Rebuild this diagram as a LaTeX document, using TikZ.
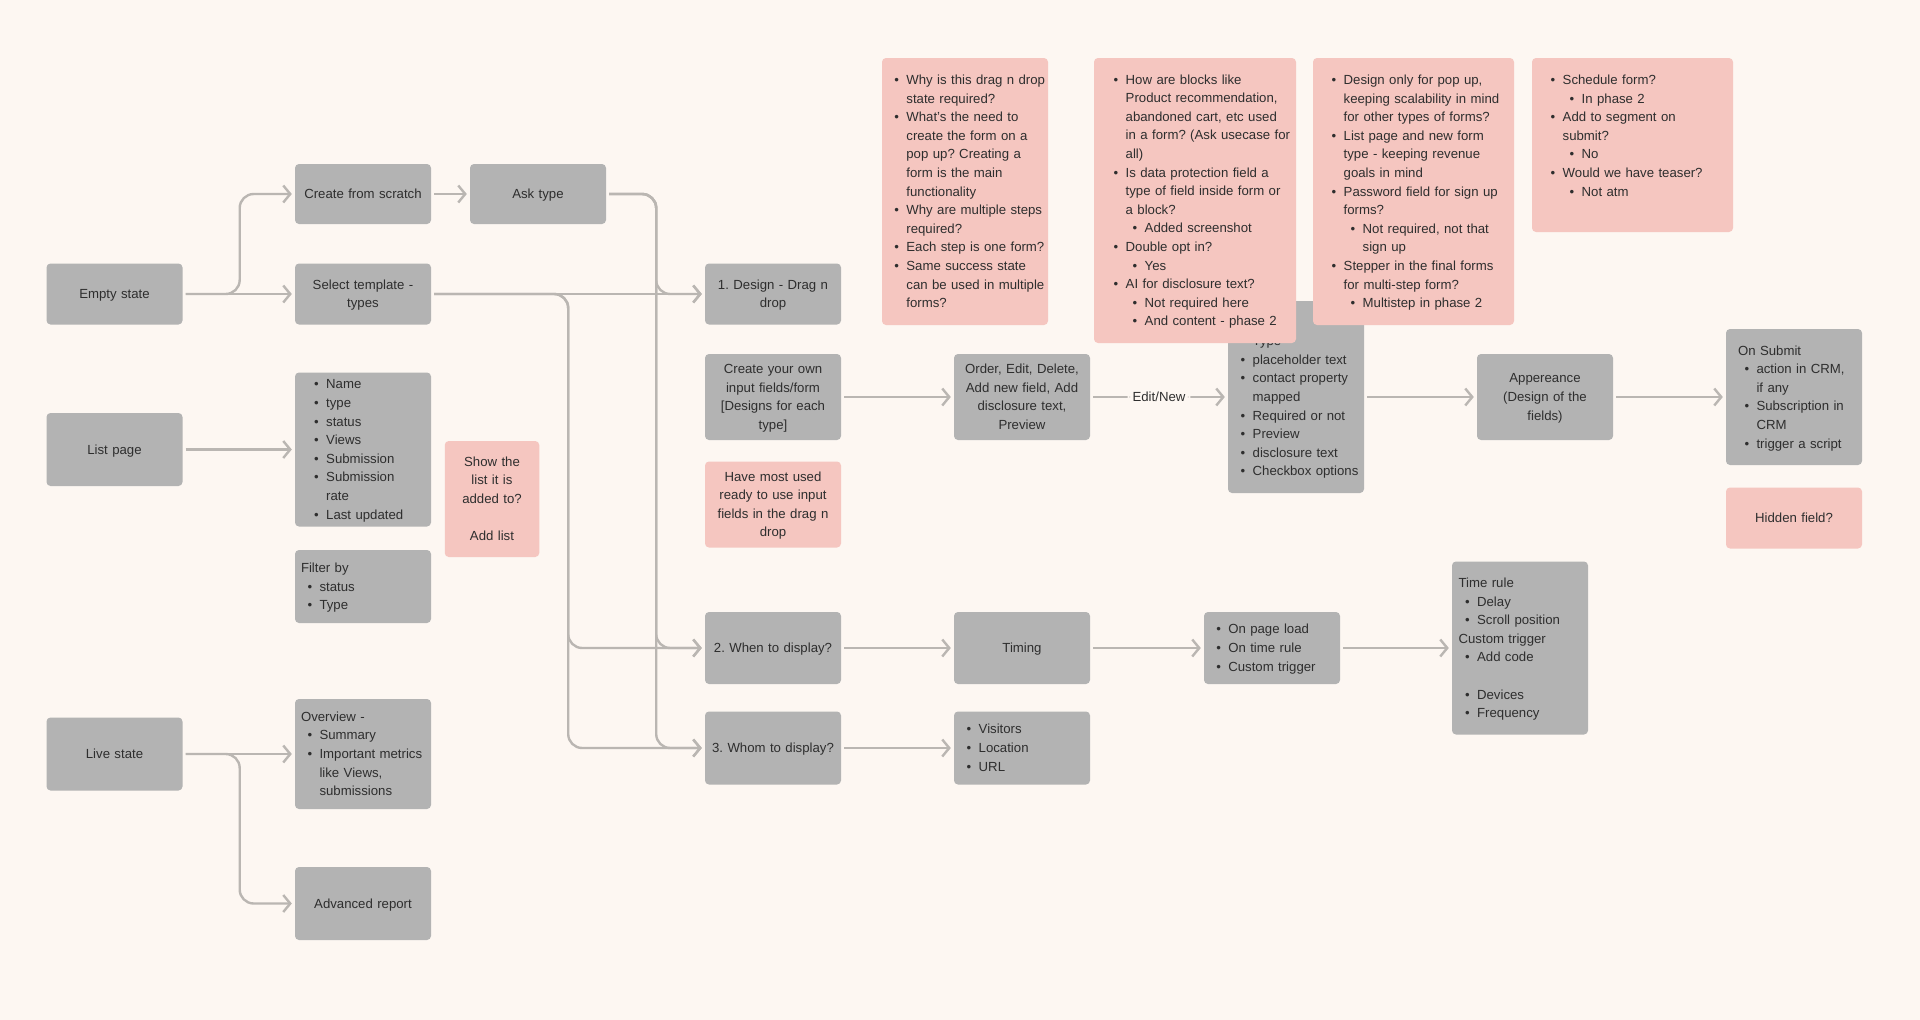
\documentclass[tikz,border=0pt]{standalone}
\usepackage{fontspec}
\setmainfont{Liberation Sans}
\usetikzlibrary{arrows.meta}
\frenchspacing

\definecolor{paper}{HTML}{FDF7F2}
\definecolor{boxgray}{HTML}{B3B3B3}
\definecolor{notepink}{HTML}{F5C6C0}
\definecolor{linegray}{HTML}{BAB6B2}
\definecolor{ink}{HTML}{2E2E2E}

\newcommand{\itm}{\makebox[12pt][l]{•}}
\newcommand{\sitm}{\hspace*{19pt}\makebox[12pt][l]{•}}
\newcommand{\hitm}{\hspace*{6.5pt}\makebox[12pt][l]{•}}
\newcommand{\ctn}{\hspace*{12pt}}
\newcommand{\sctn}{\hspace*{31pt}}
\newcommand{\hctn}{\hspace*{18.5pt}}

\begin{document}
\begin{tikzpicture}[x=1pt, y=-1pt,
    font=\fontsize{13.2}{18.6}\selectfont, text=ink,
    gbox/.style={fill=boxgray, rounded corners=4pt, inner sep=0pt, text width=136pt, align=center,
        execute at begin node={\rule{0pt}{13pt}}, execute at end node={\rule[-3.9pt]{0pt}{0pt}}},
    note/.style={gbox, fill=notepink},
    lbox/.style={align=left, execute at begin node={\leftskip=#1\rightskip=-40pt plus 1fil\relax\rule{0pt}{13pt}}},
    conn/.style={draw=linegray, line width=2.4pt, rounded corners=14pt,
        shorten <=3pt, shorten >=3pt, -{Straight Barb[length=7pt, width=17pt]}}]

    % canvas
    \fill[paper] (0,0) rectangle (1920,1020);

    % empty state
    \node[gbox, minimum height=61pt] (empty) at (114.5,294) {Empty state};
    \node[gbox, minimum height=60pt] (create) at (363,194) {Create from scratch};
    \node[gbox, minimum height=60pt] (ask) at (538,194) {Ask type};
    \node[gbox, minimum height=61pt] (select) at (363,294) {Select template -\\types};

    % list page
    \node[gbox, minimum height=73pt] (listpage) at (114.5,449.5) {List page};
    \node[gbox, lbox=19.2pt, minimum height=154pt] (fields) at (363,449.5)
        {\itm Name\\ \itm type\\ \itm status\\ \itm Views\\ \itm Submission\\ \itm Submission\\ \ctn rate\\ \itm Last updated};
    \node[note, text width=94.5pt, minimum height=116pt] (showlist) at (492,499)
        {Show the\\list it is\\added to?\\ \mbox{}\\Add list};
    \node[gbox, lbox=6pt, minimum height=73pt] (filter) at (363,586.5)
        {Filter by\\ \hitm status\\ \hitm Type};

    % live state
    \node[gbox, minimum height=73pt] (livestate) at (114.5,754) {Live state};
    \node[gbox, lbox=6pt, minimum height=110pt] (overview) at (363,754)
        {Overview -\\ \hitm Summary\\ \hitm Important metrics\\ \hctn like Views,\\ \hctn submissions};
    \node[gbox, minimum height=73pt] (advanced) at (363,903.5) {Advanced report};

    % steps
    \node[gbox, minimum height=61pt] (design) at (773,294) {1. Design - Drag n\\drop};
    \node[gbox, minimum height=86pt] (ownfields) at (773,397)
        {Create your own\\input fields/form\\\relax[Designs for each\\type]};
    \node[note, minimum height=86pt] (mostused) at (773,504.5)
        {Have most used\\ready to use input\\fields in the drag n\\drop};
    \node[gbox, minimum height=72pt] (when) at (773,648) {2. When to display?};
    \node[gbox, minimum height=73pt] (whom) at (773,748) {3. Whom to display?};

    % design flow
    \node[gbox, minimum height=86pt] (order) at (1022,397)
        {Order, Edit, Delete,\\Add new field, Add\\disclosure text,\\Preview};
    \node[gbox, lbox=12.7pt, minimum height=192pt] (typebox) at (1296,397)
        {\mbox{}\\ \itm Type\\ \itm placeholder text\\ \itm contact property\\ \ctn mapped\\ \itm Required or not\\ \itm Preview\\ \itm disclosure text\\ \itm Checkbox options};
    \node[gbox, minimum height=86pt] (appear) at (1545,397) {Appereance\\(Design of the\\fields)};
    \node[gbox, lbox=12pt, minimum height=136pt] (submit) at (1794,397)
        {On Submit\\ \hitm action in CRM,\\ \hctn if any\\ \hitm Subscription in\\ \hctn CRM\\ \hitm trigger a script};
    \node[note, minimum height=61pt] (hidden) at (1794,518) {Hidden field?};

    % display rules
    \node[gbox, minimum height=72pt] (timing) at (1022,648) {Timing};
    \node[gbox, lbox=12.3pt, minimum height=72pt] (trigger) at (1272,648)
        {\itm On page load\\ \itm On time rule\\ \itm Custom trigger};
    \node[gbox, lbox=6.6pt, minimum height=173pt] (timerule) at (1520,648)
        {Time rule\\ \hitm Delay\\ \hitm Scroll position\\ Custom trigger\\ \hitm Add code\\ \mbox{}\\ \hitm Devices\\ \hitm Frequency};
    \node[gbox, lbox=12.7pt, minimum height=73pt] (audience) at (1022,748)
        {\itm Visitors\\ \itm Location\\ \itm URL};

    % open questions
    \node[note, text width=166pt, lbox=12.4pt, minimum height=267pt] (qdrag) at (965,191.5)
        {\itm Why is this drag n drop\\ \ctn state required?\\
         \itm What’s the need to\\ \ctn create the form on a\\ \ctn pop up? Creating a\\ \ctn form is the main\\ \ctn functionality\\
         \itm Why are multiple steps\\ \ctn required?\\
         \itm Each step is one form?\\
         \itm Same success state\\ \ctn can be used in multiple\\ \ctn forms?};
    \node[note, text width=202pt, lbox=19.7pt, minimum height=285pt] (qblocks) at (1195,200.5)
        {\itm How are blocks like\\ \ctn Product recommendation,\\ \ctn abandoned cart, etc used\\ \ctn in a form? (Ask usecase for\\ \ctn all)\\
         \itm Is data protection field a\\ \ctn type of field inside form or\\ \ctn a block?\\
         \sitm Added screenshot\\
         \itm Double opt in?\\ \sitm Yes\\
         \itm AI for disclosure text?\\ \sitm Not required here\\ \sitm And content - phase 2};
    \node[note, text width=201pt, lbox=18.7pt, minimum height=267pt] (qscope) at (1413.5,191.5)
        {\itm Design only for pop up,\\ \ctn keeping scalability in mind\\ \ctn for other types of forms?\\
         \itm List page and new form\\ \ctn type - keeping revenue\\ \ctn goals in mind\\
         \itm Password field for sign up\\ \ctn forms?\\
         \sitm Not required, not that\\ \sctn sign up\\
         \itm Stepper in the final forms\\ \ctn for multi-step form?\\
         \sitm Multistep in phase 2};
    \node[note, text width=201pt, lbox=18.7pt, minimum height=174pt] (qlater) at (1632.5,145)
        {\itm Schedule form?\\ \sitm In phase 2\\
         \itm Add to segment on\\ \ctn submit?\\ \sitm No\\
         \itm Would we have teaser?\\ \sitm Not atm\\ \mbox{}};

    % connectors
    \draw[conn] (empty) -- (select);
    \draw[conn] (empty.east) -- ++(57,0) |- (create.west);
    \draw[conn] (create) -- (ask);
    \draw[conn] (select) -- (design);
    \draw[conn] (select.east) -- ++(137,0) |- (when.west);
    \draw[conn] (select.east) -- ++(137,0) |- (whom.west);
    \draw[conn] (ask.east) -- ++(50,0) |- (design.west);
    \draw[conn] (ask.east) -- ++(50,0) |- (when.west);
    \draw[conn] (ask.east) -- ++(50,0) |- (whom.west);
    \draw[conn] (listpage) -- (fields);
    \draw[conn] (livestate) -- (overview);
    \draw[conn] (livestate.east) -- ++(57,0) |- (advanced.west);
    \draw[conn] (ownfields) -- (order);
    \draw[conn] (order) -- node[fill=paper, inner xsep=5pt, inner ysep=2pt] (editlbl) {Edit/New} (typebox);
    \draw[conn] (typebox) -- (appear);
    \draw[conn] (appear) -- (submit);
    \draw[conn] (when) -- (timing);
    \draw[conn] (timing) -- (trigger);
    \draw[conn] (trigger) -- (timerule);
    \draw[conn] (whom) -- (audience);
\end{tikzpicture}
\end{document}
